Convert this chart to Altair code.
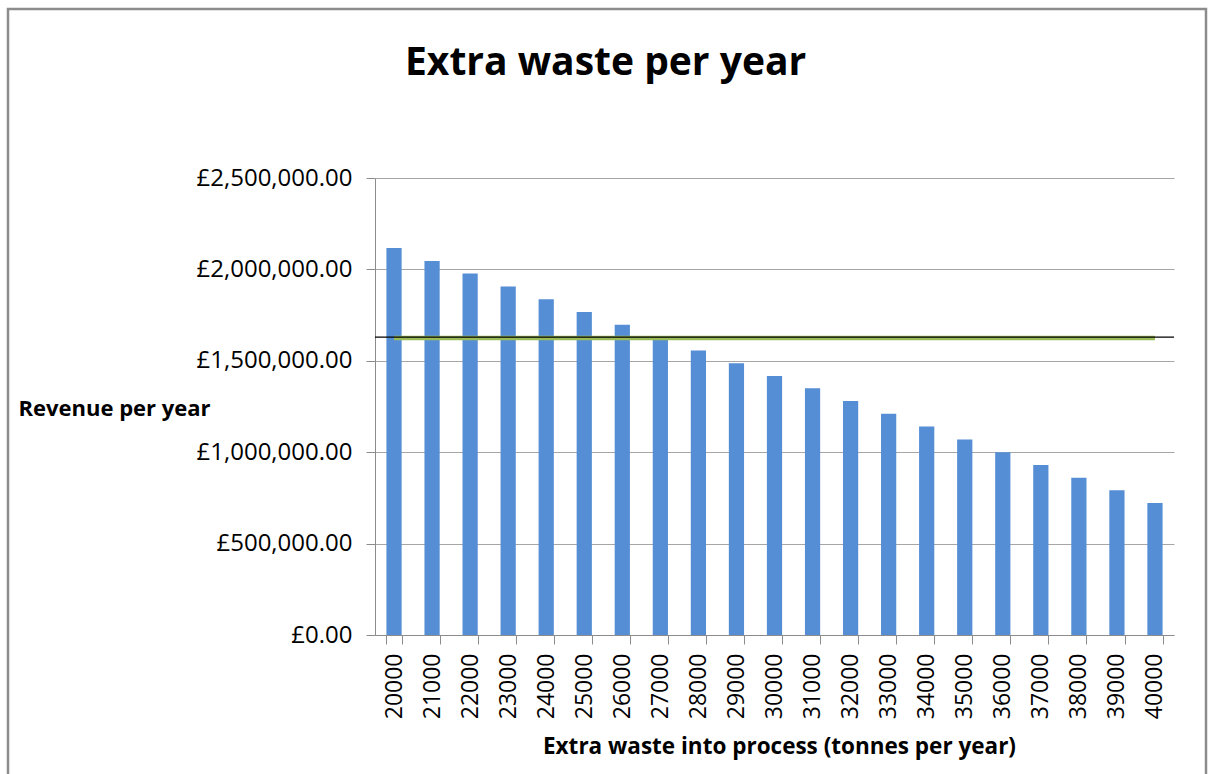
import altair as alt
import pandas as pd

# ---- data ----
tonnes = ["20000", "21000", "22000", "23000", "24000", "25000", "26000",
          "27000", "28000", "29000", "30000", "31000", "32000", "33000",
          "34000", "35000", "36000", "37000", "38000", "39000", "40000"]
revenue = [2117000, 2046000, 1977000, 1907000, 1837000, 1767000, 1697000,
           1627000, 1557000, 1487000, 1417000, 1350000, 1280000, 1210000,
           1140000, 1070000, 1000000, 930000, 860000, 792000, 722000]
green_line_value = 1625000
black_line_value = 1630000
y_ticks = [0, 500000, 1000000, 1500000, 2000000, 2500000]

df = pd.DataFrame({"tonnes": tonnes, "revenue": revenue})
df["green"] = green_line_value

FONT = "Open Sans"
W, H = 799, 457
PAD_L, PAD_T = 375, 178

x_enc = alt.X(
    "tonnes:N",
    sort=tonnes,
    scale=alt.Scale(paddingInner=0.6, paddingOuter=0.3),
    axis=alt.Axis(
        title="Extra waste into process (tonnes per year)",
        titleFont=FONT, titleFontSize=22.5, titleFontWeight="bold",
        titleColor="#000000", titleBaseline="middle", titleY=111, titleX=404,
        labelAngle=-90, labelFont=FONT, labelFontSize=23, labelColor="#000000",
        labelPadding=9, tickBand="extent", tickSize=9, tickColor="#8c8c8c",
        domainColor="#8c8c8c", grid=False,
    ),
)

y_scale = alt.Scale(domain=[0, 2500000], nice=False)

bars = alt.Chart(df).mark_bar(color="#558ED5").encode(
    x=x_enc,
    y=alt.Y(
        "revenue:Q",
        scale=y_scale,
        axis=alt.Axis(
            title="Revenue per year",
            titleFont=FONT, titleFontSize=22, titleFontWeight="bold",
            titleColor="#000000", titleAngle=0, titleAlign="left",
            titleBaseline="middle", titleX=-357, titleY=230,
            values=y_ticks,
            labelExpr="'£' + format(datum.value, ',.2f')",
            labelFont=FONT, labelFontSize=24, labelColor="#000000",
            labelPadding=14, tickSize=9, tickColor="#8c8c8c",
            domainColor="#8c8c8c", gridColor="#a6a6a6", gridWidth=1,
        ),
    ),
)

green = alt.Chart(df).mark_line(color="#9BBB59", strokeWidth=4.5).encode(
    x=alt.X("tonnes:N", sort=tonnes),
    y=alt.Y("green:Q", scale=y_scale),
)

black = alt.Chart(pd.DataFrame({"v": [black_line_value]})).mark_rule(
    color="#000000", strokeWidth=1.2
).encode(y=alt.Y("v:Q", scale=y_scale))

frame = alt.Chart(pd.DataFrame({"a": [0]})).mark_rect(
    fill=None, stroke="#8c8c8c", strokeWidth=2.5
).encode(
    x=alt.value(8 - PAD_L), x2=alt.value(1206 - PAD_L),
    y=alt.value(9 - PAD_T), y2=alt.value(800 - PAD_T),
)

chart = alt.layer(bars, green, black, frame).properties(
    width=W, height=H,
    title=alt.TitleParams(
        "Extra waste per year", font=FONT, fontSize=39, fontWeight="bold",
        color="#000000", anchor="start", dx=30, dy=79, frame="group",
    ),
    autosize=alt.AutoSizeParams(type="none"),
    padding={"left": PAD_L, "top": PAD_T, "right": 1209 - PAD_L - W,
             "bottom": 774 - PAD_T - H},
    background="#ffffff",
).configure_view(stroke=None)

chart.save("out.html", embed_options={"renderer": "svg", "actions": False})
